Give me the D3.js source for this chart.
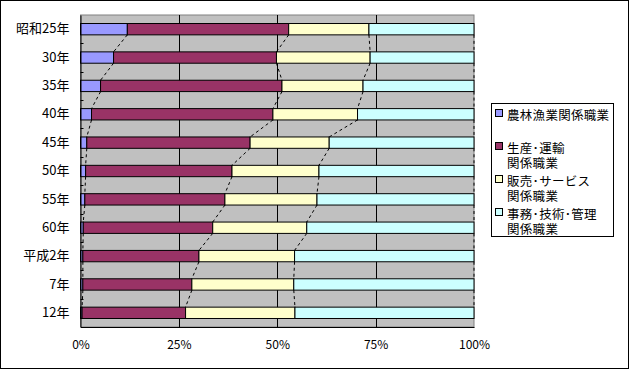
<!DOCTYPE html>
<html><head><meta charset="utf-8">
<script src="https://cdn.jsdelivr.net/npm/d3@7"></script>
<style>
html,body{margin:0;padding:0;background:#fff;}
#wrap{position:relative;width:630px;height:370px;}
svg{position:absolute;left:0;top:0;}
text{font-family:"Noto Sans CJK JP","Noto Sans",sans-serif;fill:#000;}
.lt{position:absolute;font-family:"Noto Sans CJK JP",sans-serif;font-size:12.5px;letter-spacing:0.3px;line-height:15px;color:#000;white-space:pre;}
</style></head>
<body><div id="wrap"><svg id="c" width="630" height="370"></svg></div>
<script>
const categories = ["昭和25年","30年","35年","40年","45年","50年","55年","60年","平成2年","7年","12年"];
const seriesNames = ["農林漁業関係職業","生産･運輸\n関係職業","販売･サービス\n関係職業","事務･技術･管理\n関係職業"];
const agri     = [11.9, 8.4, 5.1, 2.8, 1.6, 1.3, 1.1, 0.7, 0.6, 0.6, 0.4];
const prod     = [41.0, 41.4, 46.1, 46.1, 41.5, 37.2, 35.6, 32.9, 29.5, 27.7, 26.3];
const sales    = [20.4, 23.8, 20.6, 21.5, 20.1, 22.1, 23.4, 23.9, 24.3, 25.9, 27.8];
const office   = [26.7, 26.4, 28.2, 29.6, 36.8, 39.4, 39.9, 42.5, 45.6, 45.8, 45.5];
const xTicks   = [0, 0.25, 0.5, 0.75, 1];
const colors   = ["#9999FF","#993366","#FFFFCC","#CCFFFF"];

const svg = d3.select("#c");
svg.append("rect").attr("x",0.5).attr("y",0.5).attr("width",628).attr("height",368)
  .attr("fill","#fff").attr("stroke","#000").attr("stroke-width",1);

const L=80.5, R=474, T=15, B=327;
const x = d3.scaleLinear().domain([0,1]).range([L,R]);
const y = d3.scaleBand().domain(categories).range([T,B]).paddingInner(0.6).paddingOuter(0.3);

const table = categories.map((c,i)=>{
  const vals=[agri[i],prod[i],sales[i],office[i]];
  const tot=d3.sum(vals);
  const o={cat:c};
  vals.forEach((v,k)=>o["s"+k]=v/tot);
  return o;
});
const keys=["s0","s1","s2","s3"];
const stacked = d3.stack().keys(keys)(table);

// plot area
svg.append("rect").attr("x",L).attr("y",T).attr("width",R-L).attr("height",B-T)
  .attr("fill","#C0C0C0").attr("stroke","#808080").attr("stroke-width",1);

// gridlines
svg.append("g").selectAll("line").data(xTicks.slice(1,-1)).join("line")
  .attr("x1",d=>Math.round(x(d))+0.5).attr("x2",d=>Math.round(x(d))+0.5)
  .attr("y1",T).attr("y2",B).attr("stroke","#000").attr("stroke-width",1);

// series lines
const step = y.step();
stacked.forEach(layer=>{
  for(let i=0;i<categories.length-1;i++){
    const a=layer[i][1], b=layer[i+1][1];
    svg.append("line")
      .attr("x1",x(a)).attr("y1",y(categories[i])+y.bandwidth())
      .attr("x2",x(b)).attr("y2",y(categories[i+1]))
      .attr("stroke","#000").attr("stroke-width",1).attr("stroke-dasharray","3,3");
  }
});

// bars
svg.append("g").selectAll("g").data(stacked).join("g")
  .attr("fill",(d,i)=>colors[i])
  .selectAll("rect").data(d=>d).join("rect")
  .attr("x",d=>x(d[0])).attr("width",d=>x(d[1])-x(d[0]))
  .attr("y",d=>y(d.data.cat)).attr("height",y.bandwidth())
  .attr("stroke","#000").attr("stroke-width",1);

// axes
const yAxis = d3.axisLeft(y).tickSize(0).tickPadding(11);
const gy = svg.append("g").attr("transform",`translate(${L},0)`).call(yAxis);
gy.select(".domain").attr("stroke","#000");
gy.selectAll("text").style("font-size","13px").style("font-family",'"Noto Sans CJK JP",sans-serif');
// inward category boundary ticks
svg.append("g").selectAll("line").data(d3.range(1,categories.length)).join("line")
  .attr("x1",L).attr("x2",L+3)
  .attr("y1",k=>Math.round(T+k*step)+0.5).attr("y2",k=>Math.round(T+k*step)+0.5)
  .attr("stroke","#000");

const xAxis = d3.axisBottom(x).tickValues(xTicks).tickFormat(d3.format(".0%")).tickSize(0).tickPadding(13);
const gx = svg.append("g").attr("transform",`translate(0,${B})`).call(xAxis);
gx.select(".domain").attr("stroke","#000");
gx.selectAll("text").style("font-size","12px").style("font-family",'"Noto Sans CJK JP",sans-serif');

// legend
const lg = svg.append("g");
lg.append("rect").attr("x",491.5).attr("y",103.5).attr("width",122).attr("height",133)
  .attr("fill","#fff").attr("stroke","#000");
const rowsY = [114,147,180,213];
const wrap = d3.select("#wrap");
seriesNames.forEach((name,i)=>{
  lg.append("rect").attr("x",495.5).attr("y",rowsY[i]-4.5).attr("width",7).attr("height",7)
    .attr("fill",colors[i]).attr("stroke","#000");
  wrap.append("div").attr("class","lt")
    .style("left","507px").style("top",(rowsY[i]-7.5)+"px")
    .text(name);
});
</script></body></html>
